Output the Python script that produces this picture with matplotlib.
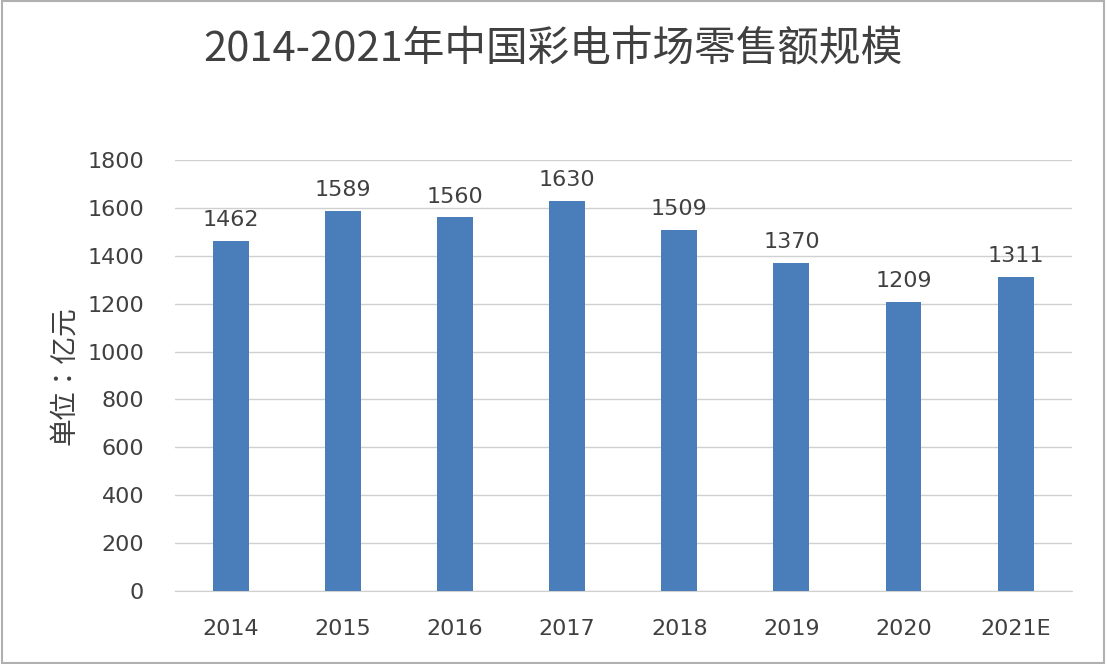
import matplotlib
matplotlib.use("Agg")
import matplotlib.pyplot as plt
from matplotlib.patches import Rectangle
from matplotlib import font_manager as fm

files = [f for f in fm.findSystemFonts() if 'cjk' in f.lower()]
def score(f):
    n = f.lower().split('/')[-1]
    s = 0
    if 'bold' in n or 'black' in n or 'heavy' in n: s += 10
    if 'light' in n or 'thin' in n or 'medium' in n: s += 5
    if 'regular' in n: s -= 3
    if 'sans' not in n: s += 4
    if 'sc' not in n: s += 1
    return s
files.sort(key=score)
cjk_file = files[0] if files else None
fp = fm.FontProperties(fname=cjk_file) if cjk_file else fm.FontProperties(family='Noto Sans CJK SC')

categories = ["2014", "2015", "2016", "2017", "2018", "2019", "2020", "2021E"]
values = [1462, 1589, 1560, 1630, 1509, 1370, 1209, 1311]
yticks = [0, 200, 400, 600, 800, 1000, 1200, 1400, 1600, 1800]
title = "2014-2021年中国彩电市场零售额规模"
ylabel = "单位：亿元"

fig = plt.figure(figsize=(11.06, 6.64), dpi=100)
fig.patches.append(Rectangle((0.002, 0.002), 0.996, 0.996, transform=fig.transFigure,
                             fill=False, edgecolor='#b0b0b0', linewidth=1.5))
ax = fig.add_axes([0.158, 0.110, 0.811, 0.649])
x = range(len(categories))
ax.bar(x, values, width=0.32, color='#4a7ebb', zorder=3)
for i, v in enumerate(values):
    ax.text(i, v + 45, str(v), ha='center', va='bottom', fontsize=16, color='#404040')
ax.set_xlim(-0.5, len(categories) - 0.5)
ax.set_ylim(0, 1800)
ax.set_yticks(yticks)
ax.set_xticks(list(x))
ax.set_xticklabels(categories)
ax.tick_params(axis='both', length=0, labelsize=16, labelcolor='#404040')
ax.tick_params(axis='x', pad=20)
ax.tick_params(axis='y', pad=22)
ax.grid(axis='y', color='#d0d0d0', linewidth=1, zorder=0)
for s in ['top', 'right', 'left']:
    ax.spines[s].set_visible(False)
ax.spines['bottom'].set_color('#d0d0d0')
fp_y = fp.copy(); fp_y.set_size(20)
ax.set_ylabel(ylabel, fontproperties=fp_y, color='#404040', labelpad=6)
fp_t = fp.copy(); fp_t.set_size(30)
fig.text(0.5, 0.925, title, ha='center', va='center', fontproperties=fp_t, color='#404040')
fig.savefig("out.png", dpi=100)
